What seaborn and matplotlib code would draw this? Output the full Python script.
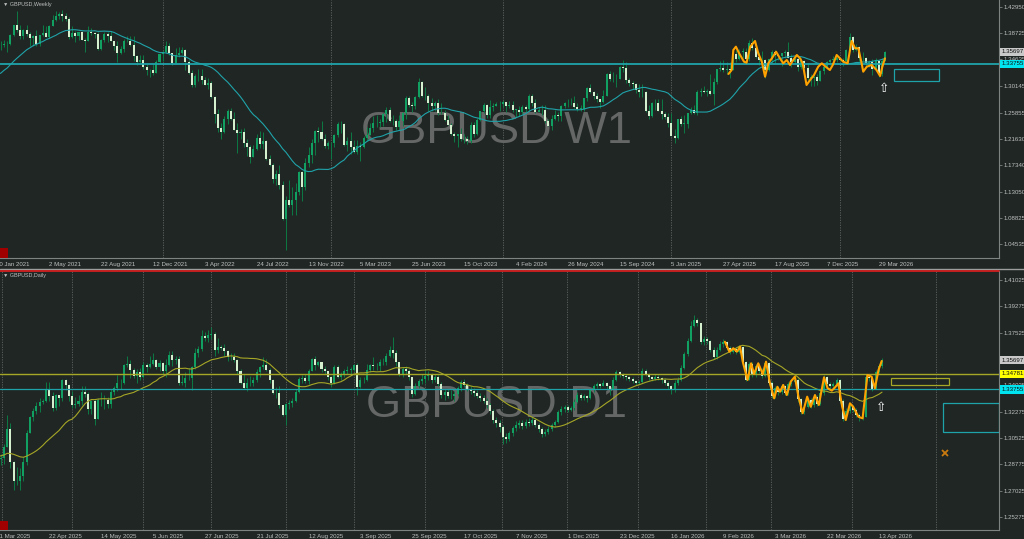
import numpy as np
import pandas as pd
import matplotlib
matplotlib.use("Agg")
import matplotlib.pyplot as plt
from matplotlib.patches import Rectangle
from matplotlib.lines import Line2D
import seaborn as sns

# ------------------------------------------------------------------ data
# ---- weekly GBPUSD (week index 0 = 10 Jan 2021)
weekly_warmup_close = [1.3280, 1.2790, 1.2915, 1.2745, 1.2930, 1.2945, 1.2915, 1.3035, 1.2940, 1.3150,
                       1.3130, 1.3285, 1.3315, 1.3445, 1.3230, 1.3590, 1.3555, 1.3670, 1.3565]
weekly_close = [
    1.3680, 1.3685, 1.3705, 1.3695, 1.3845, 1.4010, 1.3925, 1.3835, 1.3925, 1.3865,
    1.3790, 1.3830, 1.3705, 1.3840, 1.3870, 1.3815, 1.3990, 1.4085, 1.4150, 1.4190,
    1.4160, 1.4110, 1.3805, 1.3885, 1.3825, 1.3890, 1.3760, 1.3745, 1.3900, 1.3875,
    1.3865, 1.3625, 1.3760, 1.3865, 1.3830, 1.3740, 1.3675, 1.3550, 1.3615, 1.3745,
    1.3755, 1.3680, 1.3500, 1.3410, 1.3440, 1.3320, 1.3270, 1.3275, 1.3235, 1.3415,
    1.3530, 1.3565, 1.3675, 1.3555, 1.3390, 1.3525, 1.3555, 1.3595, 1.3410, 1.3225,
    1.3035, 1.3180, 1.3185, 1.3115, 1.3035, 1.3060, 1.2835, 1.2570, 1.2340, 1.2265,
    1.2490, 1.2620, 1.2490, 1.2310, 1.2260, 1.2265, 1.2095, 1.2025, 1.1860, 1.1995,
    1.2175, 1.2075, 1.2130, 1.1830, 1.1735, 1.1510, 1.1590, 1.1410, 1.0855, 1.1170,
    1.1090, 1.1175, 1.1300, 1.1615, 1.1380, 1.1770, 1.1890, 1.2095, 1.2285, 1.2265,
    1.2155, 1.2050, 1.2095, 1.2090, 1.2230, 1.2395, 1.2395, 1.2055, 1.2120, 1.2035,
    1.1945, 1.2040, 1.2035, 1.2175, 1.2230, 1.2335, 1.2410, 1.2415, 1.2440, 1.2565,
    1.2630, 1.2445, 1.2445, 1.2345, 1.2450, 1.2585, 1.2820, 1.2715, 1.2700, 1.2840,
    1.3090, 1.2855, 1.2850, 1.2745, 1.2700, 1.2735, 1.2575, 1.2585, 1.2465, 1.2380,
    1.2235, 1.2205, 1.2235, 1.2165, 1.2150, 1.2125, 1.2380, 1.2235, 1.2460, 1.2605,
    1.2710, 1.2545, 1.2675, 1.2700, 1.2730, 1.2720, 1.2750, 1.2700, 1.2705, 1.2630,
    1.2630, 1.2600, 1.2670, 1.2650, 1.2860, 1.2735, 1.2600, 1.2625, 1.2635, 1.2450,
    1.2370, 1.2490, 1.2545, 1.2525, 1.2700, 1.2740, 1.2740, 1.2735, 1.2685, 1.2645,
    1.2645, 1.2815, 1.2990, 1.2915, 1.2860, 1.2800, 1.2755, 1.2860, 1.3215, 1.3125,
    1.3125, 1.3125, 1.3325, 1.3315, 1.3115, 1.3065, 1.3050, 1.2960, 1.2915, 1.2920,
    1.2620, 1.2530, 1.2735, 1.2745, 1.2620, 1.2570, 1.2515, 1.2420, 1.2205, 1.2170,
    1.2480, 1.2405, 1.2405, 1.2580, 1.2630, 1.2575, 1.2920, 1.2935, 1.2915, 1.2940,
    1.2890, 1.3085, 1.3295, 1.3315, 1.3270, 1.3300, 1.3280, 1.3540, 1.3460, 1.3570,
    1.3570, 1.3455, 1.3715, 1.3640, 1.3495, 1.3440, 1.3435, 1.3280, 1.3450, 1.3575,
    1.3525, 1.3500, 1.3555, 1.3575, 1.3475, 1.3400, 1.3455, 1.3330, 1.3430, 1.3315,
    1.3150, 1.3150, 1.3170, 1.3100, 1.3260, 1.3320, 1.3410, 1.3440, 1.3445, 1.3480,
    1.3440, 1.3420, 1.3610, 1.3815, 1.3600, 1.3650, 1.3470, 1.3480, 1.3390, 1.3410,
    1.3290, 1.3430, 1.3210, 1.3420, 1.35697]
weekly_high = [
    1.3710, 1.3745, 1.3760, 1.3740, 1.3865, 1.4015, 1.4240, 1.4015, 1.3940, 1.4000,
    1.3890, 1.3850, 1.3920, 1.3845, 1.4010, 1.3990, 1.4005, 1.4165, 1.4235, 1.4220,
    1.4250, 1.4200, 1.4135, 1.3985, 1.3905, 1.3900, 1.3910, 1.3790, 1.3985, 1.3955,
    1.3890, 1.3890, 1.3785, 1.3890, 1.3890, 1.3915, 1.3750, 1.3750, 1.3675, 1.3775,
    1.3835, 1.3830, 1.3825, 1.3515, 1.3515, 1.3515, 1.3375, 1.3300, 1.3375, 1.3440,
    1.3530, 1.3600, 1.3750, 1.3710, 1.3550, 1.3630, 1.3645, 1.3645, 1.3620, 1.3440,
    1.3275, 1.3210, 1.3300, 1.3300, 1.3160, 1.3145, 1.3095, 1.2850, 1.2640, 1.2410,
    1.2525, 1.2645, 1.2665, 1.2600, 1.2410, 1.2325, 1.2335, 1.2165, 1.2060, 1.2065,
    1.2245, 1.2295, 1.2275, 1.2145, 1.1900, 1.1760, 1.1650, 1.1740, 1.1475, 1.1235,
    1.1495, 1.1380, 1.1440, 1.1645, 1.1645, 1.1855, 1.2030, 1.2155, 1.2310, 1.2345,
    1.2445, 1.2245, 1.2125, 1.2110, 1.2245, 1.2435, 1.2445, 1.2420, 1.2195, 1.2270,
    1.2145, 1.2145, 1.2110, 1.2205, 1.2345, 1.2420, 1.2525, 1.2545, 1.2475, 1.2585,
    1.2680, 1.2680, 1.2545, 1.2475, 1.2545, 1.2600, 1.2850, 1.2850, 1.2760, 1.2850,
    1.3140, 1.3100, 1.2995, 1.2895, 1.2815, 1.2770, 1.2800, 1.2745, 1.2625, 1.2545,
    1.2425, 1.2270, 1.2235, 1.2335, 1.2235, 1.2200, 1.2430, 1.2430, 1.2505, 1.2615,
    1.2735, 1.2720, 1.2795, 1.2735, 1.2765, 1.2770, 1.2785, 1.2765, 1.2775, 1.2775,
    1.2645, 1.2690, 1.2710, 1.2710, 1.2895, 1.2895, 1.2805, 1.2670, 1.2710, 1.2710,
    1.2490, 1.2540, 1.2635, 1.2590, 1.2710, 1.2760, 1.2800, 1.2815, 1.2860, 1.2740,
    1.2710, 1.2815, 1.2995, 1.3045, 1.2935, 1.2900, 1.2810, 1.2955, 1.3230, 1.3265,
    1.3240, 1.3215, 1.3345, 1.3435, 1.3410, 1.3150, 1.3105, 1.3060, 1.3045, 1.3045,
    1.2940, 1.2710, 1.2750, 1.2810, 1.2810, 1.2810, 1.2590, 1.2575, 1.2575, 1.2325,
    1.2490, 1.2525, 1.2550, 1.2585, 1.2670, 1.2715, 1.2945, 1.2990, 1.3015, 1.2975,
    1.3205, 1.3150, 1.3300, 1.3425, 1.3445, 1.3400, 1.3400, 1.3545, 1.3595, 1.3615,
    1.3630, 1.3630, 1.3770, 1.3790, 1.3680, 1.3575, 1.3590, 1.3460, 1.3455, 1.3595,
    1.3595, 1.3525, 1.3555, 1.3595, 1.3725, 1.3540, 1.3525, 1.3485, 1.3470, 1.3440,
    1.3390, 1.3215, 1.3215, 1.3215, 1.3275, 1.3360, 1.3425, 1.3455, 1.3510, 1.3520,
    1.3490, 1.3470, 1.3625, 1.3870, 1.3830, 1.3700, 1.3670, 1.3570, 1.3495, 1.3440,
    1.3450, 1.3470, 1.3440, 1.3480, 1.3585]
weekly_low = [
    1.3520, 1.3610, 1.3650, 1.3565, 1.3680, 1.3830, 1.3890, 1.3780, 1.3780, 1.3835,
    1.3670, 1.3670, 1.3670, 1.3670, 1.3825, 1.3815, 1.3800, 1.3985, 1.4070, 1.4110,
    1.4080, 1.4075, 1.3785, 1.3790, 1.3730, 1.3760, 1.3760, 1.3570, 1.3740, 1.3850,
    1.3800, 1.3600, 1.3610, 1.3730, 1.3725, 1.3740, 1.3610, 1.3410, 1.3545, 1.3570,
    1.3725, 1.3670, 1.3425, 1.3355, 1.3390, 1.3295, 1.3195, 1.3160, 1.3195, 1.3235,
    1.3380, 1.3430, 1.3550, 1.3525, 1.3360, 1.3390, 1.3490, 1.3530, 1.3270, 1.3215,
    1.3000, 1.3000, 1.3100, 1.3050, 1.3035, 1.2975, 1.2820, 1.2410, 1.2275, 1.2155,
    1.2260, 1.2395, 1.2460, 1.2300, 1.1935, 1.2160, 1.2030, 1.1875, 1.1760, 1.1890,
    1.1980, 1.2005, 1.2000, 1.1815, 1.1715, 1.1445, 1.1405, 1.1350, 1.0840, 1.0350,
    1.1055, 1.0925, 1.0925, 1.1255, 1.1145, 1.1335, 1.1710, 1.1765, 1.1900, 1.2110,
    1.2140, 1.2015, 1.1990, 1.1840, 1.2035, 1.2190, 1.2260, 1.2045, 1.1960, 1.1915,
    1.1925, 1.1915, 1.1800, 1.2010, 1.2125, 1.2220, 1.2275, 1.2345, 1.2345, 1.2365,
    1.2440, 1.2440, 1.2390, 1.2305, 1.2310, 1.2370, 1.2480, 1.2685, 1.2590, 1.2650,
    1.2830, 1.2840, 1.2795, 1.2620, 1.2615, 1.2620, 1.2545, 1.2560, 1.2445, 1.2380,
    1.2230, 1.2110, 1.2035, 1.2120, 1.2090, 1.2070, 1.2095, 1.2185, 1.2215, 1.2450,
    1.2585, 1.2500, 1.2500, 1.2610, 1.2690, 1.2610, 1.2675, 1.2600, 1.2665, 1.2600,
    1.2520, 1.2535, 1.2570, 1.2595, 1.2620, 1.2700, 1.2575, 1.2590, 1.2540, 1.2425,
    1.2365, 1.2300, 1.2460, 1.2445, 1.2445, 1.2655, 1.2680, 1.2710, 1.2655, 1.2620,
    1.2610, 1.2615, 1.2775, 1.2910, 1.2805, 1.2750, 1.2665, 1.2745, 1.2860, 1.3105,
    1.3090, 1.3000, 1.3130, 1.3240, 1.3070, 1.3010, 1.2975, 1.2905, 1.2845, 1.2835,
    1.2600, 1.2485, 1.2515, 1.2625, 1.2620, 1.2475, 1.2475, 1.2350, 1.2200, 1.2100,
    1.2160, 1.2375, 1.2250, 1.2335, 1.2565, 1.2560, 1.2555, 1.2860, 1.2910, 1.2860,
    1.2875, 1.2710, 1.3050, 1.3260, 1.3240, 1.3210, 1.3140, 1.3270, 1.3415, 1.3445,
    1.3480, 1.3370, 1.3425, 1.3595, 1.3475, 1.3365, 1.3400, 1.3140, 1.3265, 1.3390,
    1.3390, 1.3445, 1.3335, 1.3470, 1.3465, 1.3325, 1.3375, 1.3255, 1.3300, 1.3300,
    1.3110, 1.3010, 1.3010, 1.3035, 1.3100, 1.3220, 1.3290, 1.3360, 1.3420, 1.3400,
    1.3420, 1.3345, 1.3400, 1.3600, 1.3570, 1.3580, 1.3420, 1.3420, 1.3320, 1.3330,
    1.3200, 1.3290, 1.3170, 1.3185, 1.3420]
weekly_tick_labels = ["10 Jan 2021", "2 May 2021", "22 Aug 2021", "12 Dec 2021", "3 Apr 2022",
                      "24 Jul 2022", "13 Nov 2022", "5 Mar 2023", "25 Jun 2023", "15 Oct 2023",
                      "4 Feb 2024", "26 May 2024", "15 Sep 2024", "5 Jan 2025", "27 Apr 2025",
                      "17 Aug 2025", "7 Dec 2025", "29 Mar 2026"]
weekly_tick_idx = [16 * k for k in range(len(weekly_tick_labels))]
weekly_year_breaks = [51, 103, 156, 208, 260]
weekly_price_ticks = [1.42950, 1.38725, 1.34635, 1.30145, 1.25855, 1.21630, 1.17340, 1.13050, 1.08825, 1.04535]
weekly_zz_idx = [225.6, 226.6, 227.1, 227.9, 228.9, 230.4, 231.2, 232.3, 233.8, 234.8, 235.9, 236.9,
                 237.9, 239.0, 240.3, 241.5, 242.5, 243.6, 244.6, 245.6, 246.7, 247.7, 248.5, 249.7,
                 250.8, 252.0, 253.3, 254.4, 255.6, 256.9, 257.8, 259.0, 260.0, 261.0, 262.4, 263.6,
                 264.7, 265.7, 266.7, 267.2, 268.3, 269.8, 271.3, 272.4, 273.1, 273.9]
weekly_zz_price = [1.3213, 1.3277, 1.3602, 1.3656, 1.3548, 1.3412, 1.3396, 1.3656, 1.3748, 1.3548,
                   1.3412, 1.3169, 1.3386, 1.3467, 1.3574, 1.3467, 1.3386, 1.3440, 1.3359, 1.3440,
                   1.3521, 1.3467, 1.3386, 1.3034, 1.3115, 1.3196, 1.3331, 1.3386, 1.3331, 1.3277,
                   1.3359, 1.3521, 1.3467, 1.3412, 1.3386, 1.3748, 1.3630, 1.3630, 1.3386, 1.3250,
                   1.3331, 1.3359, 1.3277, 1.3180, 1.3331, 1.3467]

# ---- daily GBPUSD (day index 0 = 31 Mar 2025)
daily_warmup_close = [1.2795, 1.2890, 1.2885, 1.2920, 1.2875, 1.2940, 1.2960, 1.2950, 1.2935, 1.2985,
                      1.3000, 1.2995, 1.2965, 1.2915, 1.2920, 1.2945, 1.2880, 1.2945, 1.2940]
daily_close = [
    1.2915, 1.2920, 1.2995, 1.3115, 1.2890, 1.2770, 1.2765, 1.2800, 1.2895, 1.3085,
    1.3195, 1.3235, 1.3265, 1.3295, 1.3300, 1.3380, 1.3330, 1.3250, 1.3335, 1.3315,
    1.3435, 1.3405, 1.3330, 1.3270, 1.3280, 1.3300, 1.3355, 1.3345, 1.3245, 1.3300,
    1.3180, 1.3305, 1.3305, 1.3305, 1.3280, 1.3360, 1.3385, 1.3415, 1.3420, 1.3540,
    1.3545, 1.3505, 1.3465, 1.3490, 1.3455, 1.3535, 1.3525, 1.3545, 1.3570, 1.3525,
    1.3550, 1.3500, 1.3540, 1.3605, 1.3570, 1.3575, 1.3420, 1.3420, 1.3450, 1.3450,
    1.3525, 1.3620, 1.3645, 1.3730, 1.3715, 1.3740, 1.3745, 1.3635, 1.3660, 1.3650,
    1.3630, 1.3590, 1.3590, 1.3570, 1.3495, 1.3420, 1.3385, 1.3415, 1.3415, 1.3440,
    1.3490, 1.3525, 1.3540, 1.3505, 1.3435, 1.3350, 1.3350, 1.3270, 1.3205, 1.3280,
    1.3285, 1.3300, 1.3360, 1.3445, 1.3450, 1.3430, 1.3500, 1.3575, 1.3535, 1.3555,
    1.3510, 1.3495, 1.3455, 1.3420, 1.3525, 1.3460, 1.3480, 1.3495, 1.3505, 1.3505,
    1.3535, 1.3390, 1.3440, 1.3435, 1.3505, 1.3535, 1.3530, 1.3530, 1.3560, 1.3555,
    1.3600, 1.3640, 1.3620, 1.3555, 1.3470, 1.3510, 1.3500, 1.3455, 1.3345, 1.3400,
    1.3430, 1.3445, 1.3465, 1.3475, 1.3440, 1.3455, 1.3410, 1.3335, 1.3355, 1.3330,
    1.3330, 1.3345, 1.3385, 1.3425, 1.3405, 1.3380, 1.3365, 1.3350, 1.3330, 1.3320,
    1.3300, 1.3270, 1.3230, 1.3170, 1.3150, 1.3125, 1.3060, 1.3045, 1.3085, 1.3120,
    1.3140, 1.3150, 1.3135, 1.3160, 1.3155, 1.3170, 1.3140, 1.3110, 1.3080, 1.3095,
    1.3115, 1.3140, 1.3160, 1.3225, 1.3245, 1.3260, 1.3240, 1.3250, 1.3295, 1.3340,
    1.3320, 1.3330, 1.3315, 1.3370, 1.3395, 1.3410, 1.3400, 1.3420, 1.3395, 1.3380,
    1.3440, 1.3490, 1.3475, 1.3465, 1.3455, 1.3445, 1.3430, 1.3420, 1.3425, 1.3500,
    1.3480, 1.3455, 1.3445, 1.3460, 1.3450, 1.3440, 1.3420, 1.3395, 1.3370, 1.3420,
    1.3440, 1.3520, 1.3610, 1.3700, 1.3800, 1.3835, 1.3815, 1.3690, 1.3710, 1.3695,
    1.3640, 1.3590, 1.3640, 1.3680, 1.3690, 1.3650, 1.3625, 1.3645, 1.3625, 1.3655,
    1.3555, 1.3440, 1.3545, 1.3470, 1.3530, 1.3500, 1.3465, 1.3550, 1.3420, 1.3330,
    1.3385, 1.3355, 1.3395, 1.3350, 1.3410, 1.3425, 1.3440, 1.3310, 1.3225, 1.3260,
    1.3305, 1.3270, 1.3325, 1.3280, 1.3350, 1.3455, 1.3410, 1.3395, 1.3410, 1.3435,
    1.3300, 1.3180, 1.3235, 1.3265, 1.3240, 1.3205, 1.3190, 1.3195, 1.3460, 1.3450,
    1.3380, 1.3490, 1.3530, 1.35697]
daily_high = [
    1.2970, 1.2945, 1.3010, 1.3205, 1.3150, 1.2900, 1.2860, 1.2850, 1.2925, 1.3105,
    1.3200, 1.3250, 1.3290, 1.3315, 1.3310, 1.3425, 1.3425, 1.3360, 1.3345, 1.3335,
    1.3445, 1.3445, 1.3410, 1.3365, 1.3325, 1.3335, 1.3400, 1.3400, 1.3355, 1.3305,
    1.3310, 1.3320, 1.3355, 1.3340, 1.3325, 1.3380, 1.3400, 1.3470, 1.3445, 1.3545,
    1.3595, 1.3570, 1.3520, 1.3510, 1.3515, 1.3555, 1.3550, 1.3595, 1.3615, 1.3580,
    1.3570, 1.3560, 1.3575, 1.3630, 1.3630, 1.3595, 1.3600, 1.3470, 1.3490, 1.3515,
    1.3530, 1.3650, 1.3665, 1.3770, 1.3755, 1.3770, 1.3790, 1.3755, 1.3715, 1.3670,
    1.3675, 1.3635, 1.3620, 1.3620, 1.3575, 1.3510, 1.3480, 1.3450, 1.3465, 1.3460,
    1.3510, 1.3530, 1.3590, 1.3580, 1.3515, 1.3445, 1.3390, 1.3395, 1.3275, 1.3285,
    1.3305, 1.3315, 1.3375, 1.3460, 1.3470, 1.3475, 1.3510, 1.3585, 1.3595, 1.3565,
    1.3560, 1.3530, 1.3500, 1.3465, 1.3540, 1.3535, 1.3490, 1.3510, 1.3530, 1.3525,
    1.3545, 1.3550, 1.3455, 1.3460, 1.3545, 1.3545, 1.3590, 1.3550, 1.3575, 1.3585,
    1.3615, 1.3665, 1.3725, 1.3635, 1.3560, 1.3525, 1.3530, 1.3510, 1.3460, 1.3415,
    1.3445, 1.3480, 1.3505, 1.3495, 1.3485, 1.3475, 1.3470, 1.3425, 1.3380, 1.3375,
    1.3370, 1.3365, 1.3400, 1.3440, 1.3445, 1.3420, 1.3400, 1.3385, 1.3370, 1.3350,
    1.3340, 1.3315, 1.3285, 1.3245, 1.3190, 1.3170, 1.3140, 1.3085, 1.3100, 1.3135,
    1.3165, 1.3170, 1.3175, 1.3180, 1.3185, 1.3195, 1.3185, 1.3155, 1.3125, 1.3110,
    1.3130, 1.3155, 1.3175, 1.3240, 1.3265, 1.3275, 1.3270, 1.3265, 1.3310, 1.3355,
    1.3350, 1.3345, 1.3340, 1.3380, 1.3410, 1.3425, 1.3420, 1.3435, 1.3425, 1.3400,
    1.3455, 1.3505, 1.3500, 1.3485, 1.3475, 1.3465, 1.3455, 1.3440, 1.3440, 1.3515,
    1.3510, 1.3485, 1.3465, 1.3475, 1.3470, 1.3460, 1.3450, 1.3430, 1.3405, 1.3435,
    1.3455, 1.3535, 1.3625, 1.3715, 1.3830, 1.3870, 1.3850, 1.3820, 1.3730, 1.3725,
    1.3705, 1.3655, 1.3655, 1.3700, 1.3710, 1.3700, 1.3665, 1.3660, 1.3655, 1.3670,
    1.3665, 1.3565, 1.3560, 1.3555, 1.3545, 1.3540, 1.3515, 1.3565, 1.3560, 1.3430,
    1.3400, 1.3395, 1.3410, 1.3405, 1.3425, 1.3445, 1.3460, 1.3450, 1.3320, 1.3275,
    1.3320, 1.3315, 1.3340, 1.3335, 1.3365, 1.3470, 1.3465, 1.3425, 1.3425, 1.3450,
    1.3445, 1.3310, 1.3250, 1.3280, 1.3275, 1.3250, 1.3220, 1.3215, 1.3475, 1.3480,
    1.3460, 1.3505, 1.3545, 1.3585]
daily_low = [
    1.2875, 1.2875, 1.2880, 1.2990, 1.2855, 1.2710, 1.2740, 1.2710, 1.2765, 1.2875,
    1.3085, 1.3165, 1.3215, 1.3225, 1.3280, 1.3290, 1.3300, 1.3230, 1.3240, 1.3265,
    1.3300, 1.3370, 1.3300, 1.3255, 1.3250, 1.3265, 1.3275, 1.3325, 1.3215, 1.3215,
    1.3140, 1.3180, 1.3265, 1.3245, 1.3250, 1.3255, 1.3340, 1.3365, 1.3375, 1.3410,
    1.3525, 1.3450, 1.3450, 1.3415, 1.3440, 1.3450, 1.3490, 1.3515, 1.3535, 1.3510,
    1.3500, 1.3480, 1.3460, 1.3530, 1.3530, 1.3545, 1.3405, 1.3405, 1.3390, 1.3435,
    1.3370, 1.3510, 1.3590, 1.3630, 1.3700, 1.3690, 1.3710, 1.3600, 1.3620, 1.3640,
    1.3595, 1.3565, 1.3570, 1.3555, 1.3480, 1.3410, 1.3380, 1.3365, 1.3395, 1.3400,
    1.3425, 1.3460, 1.3510, 1.3495, 1.3415, 1.3345, 1.3315, 1.3255, 1.3200, 1.3140,
    1.3245, 1.3260, 1.3290, 1.3350, 1.3415, 1.3420, 1.3410, 1.3495, 1.3505, 1.3530,
    1.3490, 1.3480, 1.3440, 1.3390, 1.3410, 1.3450, 1.3440, 1.3460, 1.3480, 1.3480,
    1.3500, 1.3335, 1.3385, 1.3420, 1.3430, 1.3490, 1.3505, 1.3505, 1.3495, 1.3535,
    1.3540, 1.3590, 1.3585, 1.3530, 1.3465, 1.3455, 1.3480, 1.3435, 1.3325, 1.3340,
    1.3385, 1.3410, 1.3420, 1.3440, 1.3420, 1.3425, 1.3400, 1.3320, 1.3305, 1.3315,
    1.3310, 1.3300, 1.3330, 1.3365, 1.3390, 1.3365, 1.3345, 1.3330, 1.3315, 1.3300,
    1.3285, 1.3255, 1.3210, 1.3155, 1.3125, 1.3095, 1.3010, 1.3020, 1.3030, 1.3065,
    1.3100, 1.3120, 1.3115, 1.3120, 1.3135, 1.3140, 1.3125, 1.3095, 1.3060, 1.3065,
    1.3080, 1.3100, 1.3125, 1.3150, 1.3205, 1.3225, 1.3225, 1.3230, 1.3240, 1.3285,
    1.3305, 1.3305, 1.3295, 1.3310, 1.3360, 1.3385, 1.3385, 1.3395, 1.3380, 1.3335,
    1.3375, 1.3430, 1.3460, 1.3450, 1.3440, 1.3430, 1.3415, 1.3405, 1.3410, 1.3415,
    1.3465, 1.3440, 1.3430, 1.3435, 1.3440, 1.3420, 1.3405, 1.3380, 1.3345, 1.3360,
    1.3405, 1.3430, 1.3510, 1.3600, 1.3690, 1.3790, 1.3795, 1.3675, 1.3670, 1.3680,
    1.3625, 1.3575, 1.3580, 1.3630, 1.3660, 1.3635, 1.3610, 1.3615, 1.3610, 1.3615,
    1.3540, 1.3430, 1.3435, 1.3460, 1.3460, 1.3485, 1.3450, 1.3455, 1.3405, 1.3315,
    1.3320, 1.3340, 1.3345, 1.3335, 1.3340, 1.3395, 1.3415, 1.3295, 1.3210, 1.3215,
    1.3250, 1.3255, 1.3260, 1.3265, 1.3270, 1.3340, 1.3395, 1.3380, 1.3385, 1.3400,
    1.3285, 1.3165, 1.3170, 1.3220, 1.3225, 1.3190, 1.3165, 1.3170, 1.3190, 1.3430,
    1.3365, 1.3375, 1.3475, 1.3520]
daily_tick_labels = ["31 Mar 2025", "22 Apr 2025", "14 May 2025", "5 Jun 2025", "27 Jun 2025",
                     "21 Jul 2025", "12 Aug 2025", "3 Sep 2025", "25 Sep 2025", "17 Oct 2025",
                     "7 Nov 2025", "1 Dec 2025", "23 Dec 2025", "16 Jan 2026", "9 Feb 2026",
                     "3 Mar 2026", "22 Mar 2026", "13 Apr 2026"]
daily_tick_idx = [16 * k for k in range(len(daily_tick_labels))]
daily_month_breaks = [1.4, 23.0, 44.9, 65.9, 89.0, 110.0, 132.0, 155.7, 175.8, 197.7, 218.7, 238.7, 263.7, 289.7]
daily_price_ticks = [1.41025, 1.39275, 1.37525, 1.35775, 1.34025, 1.32275, 1.30525, 1.28775, 1.27025, 1.25275]
daily_zz_idx = [224.5, 225.9, 227.1, 228.2, 229.2, 230.0, 231.5, 232.6, 233.5, 234.8, 236.2, 237.2,
                238.4, 239.7, 240.7, 241.5, 242.5, 243.6, 244.8, 246.1, 247.2, 248.5, 249.9, 251.0,
                252.3, 253.5, 255.1, 256.2, 257.5, 258.5, 259.5, 260.7, 261.8, 263.1, 264.1, 265.7,
                267.0, 268.5, 269.8, 270.8, 271.9, 272.9]
daily_zz_price = [1.3692, 1.3626, 1.3649, 1.3626, 1.3659, 1.3560, 1.3438, 1.3549, 1.3478, 1.3549,
                  1.3478, 1.3560, 1.3416, 1.3316, 1.3393, 1.3360, 1.3405, 1.3338, 1.3427, 1.3460,
                  1.3327, 1.3217, 1.3327, 1.3260, 1.3338, 1.3272, 1.3456, 1.3383, 1.3367, 1.3389,
                  1.3416, 1.3260, 1.3172, 1.3283, 1.3260, 1.3194, 1.3183, 1.3471, 1.3460, 1.3383,
                  1.3504, 1.3564]

current_price = 1.35697
teal_level = 1.33755
yellow_level = 1.34781

# drawn objects (index, price)
weekly_box = (276.8, 1.3099, 290.7, 1.3289)
weekly_arrow = (273.6, 1.2985)
daily_box_olive = (275.8, 1.3402, 293.8, 1.3449)
daily_box_teal = (291.7, 1.3094, 309.1, 1.3283)
daily_arrow = (272.7, 1.3252)
daily_cross = (292.4, 1.2950)

# ------------------------------------------------------------------ style
BG = "#1f2623"
BULL = "#12a062"
BEAR = "#d4f0cf"
WICK = "#0c7a45"
GRID = "#5f6562"
SPINE = "#7d8380"
TXT = "#bfc1c0"
TEAL = "#1fa3aa"
OLIVE = "#a6a627"
ORANGE = "#ffa200"
WATER = "#646765"

sns.set_style("dark", {"axes.facecolor": BG, "figure.facecolor": BG})
plt.rcParams["font.family"] = ["Liberation Sans", "DejaVu Sans"]

W, H = 1024, 539
fig = plt.figure(figsize=(W / 100, H / 100), dpi=100, facecolor=BG)
ax1 = fig.add_axes([0, 1 - 257.7 / H, 999 / W, 257.7 / H])
ax2 = fig.add_axes([0, 1 - 530 / H, 999 / W, 259 / H])

XL = (0.772, 309.1)


def draw_candles(ax, close, high, low, warm, ma_color, body_min):
    c = np.asarray(close, dtype=float)
    o = np.r_[warm[-1], c[:-1]]
    h = np.maximum(np.asarray(high, dtype=float), np.maximum(o, c))
    lo = np.minimum(np.asarray(low, dtype=float), np.minimum(o, c))
    x = np.arange(len(c))
    up = c >= o
    ax.vlines(x, lo, h, colors=WICK, linewidth=0.7, zorder=3)
    ax.bar(x, np.maximum(np.abs(c - o), body_min), bottom=np.minimum(o, c), width=0.62,
           color=np.where(up, BULL, BEAR), linewidth=0, zorder=4)
    ma = pd.Series(list(warm) + list(c)).rolling(20).mean().to_numpy()[len(warm):]
    sns.lineplot(x=x, y=ma, ax=ax, color=ma_color, linewidth=0.8, zorder=5, legend=False)


def style_axes(ax, ylim, price_ticks, tick_idx, tick_labels, breaks, title, wm_text, wm_y, h_px):
    ax.set_facecolor(BG)
    ax.set_xlim(*XL)
    ax.set_ylim(*ylim)
    for b in breaks:
        ax.axvline(b, color=GRID, lw=0.6, ls=(0, (1.5, 1.5)), zorder=1.5)
    for s in ["left", "top"]:
        ax.spines[s].set_visible(False)
    for s in ["right", "bottom"]:
        ax.spines[s].set_color(SPINE)
        ax.spines[s].set_linewidth(0.8)
    ax.yaxis.tick_right()
    ax.set_yticks(price_ticks)
    ax.set_yticklabels([f"{p:.5f}" for p in price_ticks])
    # first tick lies left of the visible range: its label is drawn separately (cut by the edge)
    ax.set_xticks(tick_idx[1:])
    ax.set_xticklabels(tick_labels[1:])
    for lab in ax.get_xticklabels():
        lab.set_horizontalalignment("left")
    ax.tick_params(axis="both", length=2.2, width=0.6, color=SPINE, labelsize=4.4,
                   labelcolor=TXT, pad=0.8)
    ax.set_xlabel("")
    ax.set_ylabel("")
    ax.grid(False)
    ax.text(tick_idx[0] - 0.35, -3.0 / 72 * 100 / h_px, tick_labels[0], transform=ax.get_xaxis_transform(),
            ha="left", va="top", fontsize=4.4, color=TXT, clip_on=False)
    ax.text(0.003, 1 - 4.6 / h_px, "\u25BC " + title, transform=ax.transAxes, ha="left", va="center",
            fontsize=3.9, color=TXT, zorder=10)
    ax.text(496.7 / 999, wm_y, wm_text, transform=ax.transAxes, ha="center", va="baseline",
            fontsize=32.5, color=WATER, zorder=1, family="Liberation Sans")
    ax.add_patch(Rectangle((0, 0), 7.5 / 999, 9.5 / h_px, transform=ax.transAxes,
                           facecolor="#a00000", edgecolor="none", zorder=10, clip_on=False))


def price_box(ax, price, text, fc, tc="#101010"):
    ax.text(1.0025, price, text, transform=ax.get_yaxis_transform(), ha="left", va="center",
            fontsize=4.4, color=tc, zorder=20, clip_on=False,
            bbox=dict(boxstyle="square,pad=0.28", fc=fc, ec="none"))


# ------------------------------------------------------------------ weekly panel
draw_candles(ax1, weekly_close, weekly_high, weekly_low, weekly_warmup_close, TEAL, 0.0008)
ax1.axhline(teal_level, color=TEAL, lw=1.3, zorder=6)
sns.lineplot(x=weekly_zz_idx, y=weekly_zz_price, ax=ax1, color=ORANGE, linewidth=1.5,
             sort=False, zorder=7, legend=False)
ax1.add_patch(Rectangle((weekly_box[0], weekly_box[1]), weekly_box[2] - weekly_box[0],
                        weekly_box[3] - weekly_box[1], fill=False, ec=TEAL, lw=0.9, zorder=6))
ax1.text(weekly_arrow[0], weekly_arrow[1], "\u21E7", ha="center", va="center", fontsize=9,
         color="white", family="DejaVu Sans", zorder=8)
style_axes(ax1, (1.02311, 1.44135), weekly_price_ticks, weekly_tick_idx, weekly_tick_labels,
           weekly_year_breaks, "GBPUSD,Weekly", "GBPUSD W1", 1 - 143 / 257.7, 257.7)
price_box(ax1, current_price, f"{current_price:.5f}", "#c9c9c9")
price_box(ax1, teal_level, f"{teal_level:.5f}", "#00e4f0")

# ------------------------------------------------------------------ daily panel
draw_candles(ax2, daily_close, daily_high, daily_low, daily_warmup_close, OLIVE, 0.0003)
ax2.axhline(yellow_level, color=OLIVE, lw=1.0, zorder=6)
ax2.axhline(teal_level, color=TEAL, lw=0.9, zorder=6)
sns.lineplot(x=daily_zz_idx, y=daily_zz_price, ax=ax2, color=ORANGE, linewidth=1.5,
             sort=False, zorder=7, legend=False)
ax2.add_patch(Rectangle((daily_box_olive[0], daily_box_olive[1]), daily_box_olive[2] - daily_box_olive[0],
                        daily_box_olive[3] - daily_box_olive[1], fill=False, ec=OLIVE, lw=0.9, zorder=6))
ax2.add_patch(Rectangle((daily_box_teal[0], daily_box_teal[1]), daily_box_teal[2] - daily_box_teal[0],
                        daily_box_teal[3] - daily_box_teal[1], fill=False, ec=TEAL, lw=0.9, zorder=6))
ax2.plot([daily_cross[0]], [daily_cross[1]], marker="x", ms=4, mew=1.3, color="#c87a10", zorder=8)
ax2.text(daily_arrow[0], daily_arrow[1], "\u21E7", ha="center", va="center", fontsize=9,
         color="white", family="DejaVu Sans", zorder=8)
style_axes(ax2, (1.24411, 1.41623), daily_price_ticks, daily_tick_idx, daily_tick_labels,
           daily_month_breaks, "GBPUSD,Daily", "GBPUSD D1", (530 - 416.7) / 259, 259)
price_box(ax2, current_price, f"{current_price:.5f}", "#c9c9c9")
price_box(ax2, yellow_level, f"{yellow_level:.5f}", "#ffff00")
price_box(ax2, teal_level, f"{teal_level:.5f}", "#00e4f0")

# ------------------------------------------------------------------ window separators
fig.add_artist(Line2D([0, 1], [1 - 268.6 / H] * 2, transform=fig.transFigure, color="#9c9e9d", lw=1.0))
fig.add_artist(Line2D([0, 999 / W], [1 - 270.6 / H] * 2, transform=fig.transFigure, color="#e01e1e", lw=1.2))

fig.savefig("out.png", dpi=100, facecolor=BG)
